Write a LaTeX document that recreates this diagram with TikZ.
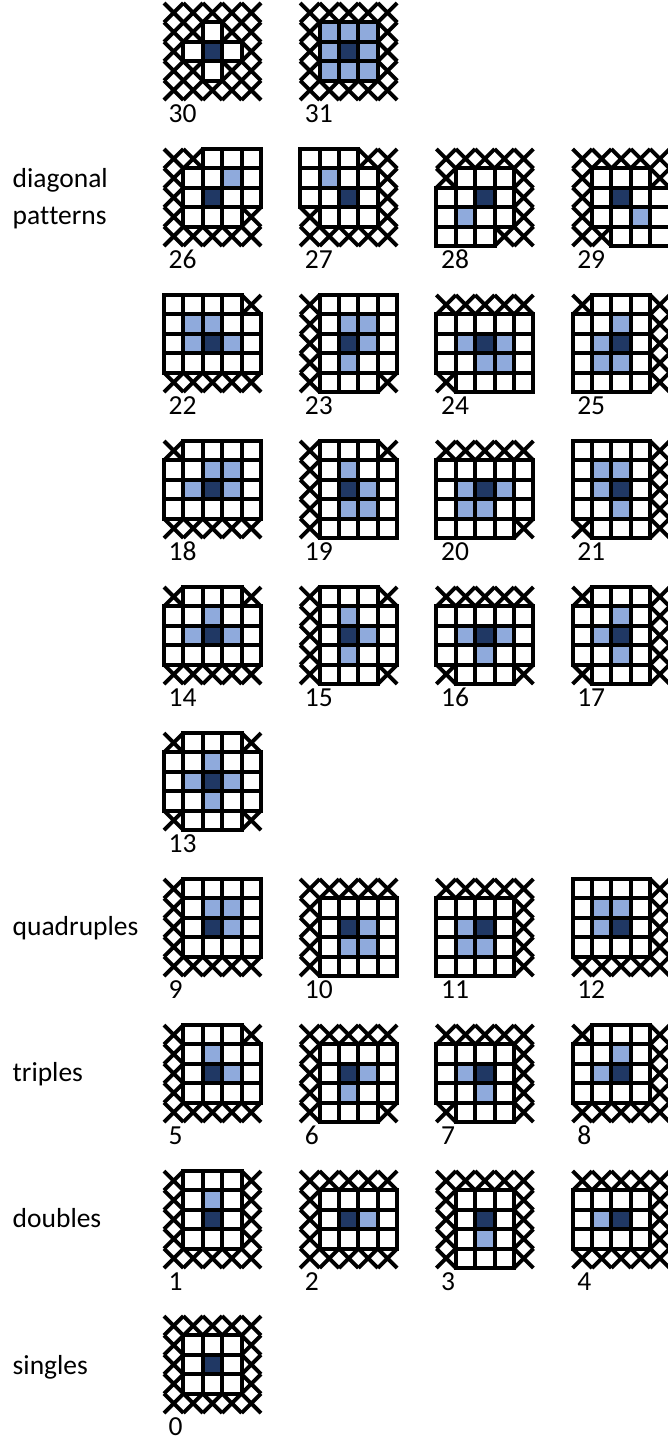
\documentclass[tikz,border=0pt]{standalone}
\usepackage{fontspec}
\setmainfont[Ligatures=NoCommon]{Carlito}
\definecolor{darkcell}{HTML}{203864}
\definecolor{lightcell}{HTML}{8FAADC}
\tikzset{
  xline/.style={line width=3.9pt, draw=black},
  cellbox/.style={line width=3.9pt, draw=black, line join=miter},
  num/.style={anchor=base west, inner sep=0pt, font=\fontsize{27.5}{33}\selectfont},
  side/.style={anchor=base west, inner sep=0pt, font=\fontsize{27.5}{33}\selectfont}
}
\def\cs{19.4}
\newif\ifxpass
\newcommand\drawcell[3]{\csname dc#1\endcsname{#2}{#3}}
\def\dcX#1#2{\ifxpass\draw[xline] (#1,#2) -- ++(\cs,\cs) (#1+\cs,#2) -- ++(-\cs,\cs);\fi}
\def\dcW#1#2{\ifxpass\else\draw[cellbox,fill=white] (#1,#2) rectangle ++(\cs,\cs);\fi}
\def\dcL#1#2{\ifxpass\else\draw[cellbox,fill=lightcell] (#1,#2) rectangle ++(\cs,\cs);\fi}
\def\dcD#1#2{\ifxpass\else\draw[cellbox,fill=darkcell] (#1,#2) rectangle ++(\cs,\cs);\fi}
\def\drawrow#1#2#3{\drawrowA{#1}{#2}#3\relax}
\def\drawrowA#1#2#3#4#5#6#7\relax{%
  \drawcell{#3}{#1}{#2}\drawcell{#4}{#1+\cs}{#2}\drawcell{#5}{#1+2*\cs}{#2}%
  \drawcell{#6}{#1+3*\cs}{#2}\drawcell{#7}{#1+4*\cs}{#2}}
\newcommand\patrows[7]{%
  \drawrow{#1}{#2}{#3}\drawrow{#1}{#2+\cs}{#4}\drawrow{#1}{#2+2*\cs}{#5}%
  \drawrow{#1}{#2+3*\cs}{#6}\drawrow{#1}{#2+4*\cs}{#7}}
\newcommand\pat[8]{%
  \xpasstrue\patrows{#1}{#2}{#4}{#5}{#6}{#7}{#8}%
  \xpassfalse\patrows{#1}{#2}{#4}{#5}{#6}{#7}{#8}%
  \node[num] (n#3) at (#1+4.5,#2+119) {#3};}
\begin{document}
\begin{tikzpicture}[x=1pt,y=-1pt]
\useasboundingbox (0,0) rectangle (667,1438);
\fill[white] (0,0) rectangle (667,1438);
% row 0
\pat{164}{3}{30}{XXXXX}{XXWXX}{XWDWX}{XXWXX}{XXXXX}
\pat{300.2}{3}{31}{XXXXX}{XLLLX}{XLDLX}{XLLLX}{XXXXX}
% row 1
\pat{164}{149}{26}{XXWWW}{XWWLW}{XWDWW}{XWWWX}{XXXXX}
\pat{300.2}{149}{27}{WWWXX}{WLWWX}{WWDWX}{XWWWX}{XXXXX}
\pat{436.4}{149}{28}{XXXXX}{XWWWX}{WWDWX}{WLWWX}{WWWXX}
\pat{572.6}{149}{29}{XXXXX}{XWWWX}{XWDWW}{XWWLW}{XXWWW}
% row 2
\pat{164}{295}{22}{WWWWX}{WLLWW}{WLDLW}{WWWWW}{XXXXX}
\pat{300.2}{295}{23}{XWWWW}{XWLLW}{XWDLW}{XWLWW}{XWWWX}
\pat{436.4}{295}{24}{XXXXX}{WWWWW}{WLDLW}{WWLLW}{XWWWW}
\pat{572.6}{295}{25}{XWWWX}{WWLWX}{WLDWX}{WLLWX}{WWWWX}
% row 3
\pat{164}{441}{18}{XWWWW}{WWLLW}{WLDLW}{WWWWW}{XXXXX}
\pat{300.2}{441}{19}{XWWWX}{XWLWW}{XWDLW}{XWLLW}{XWWWW}
\pat{436.4}{441}{20}{XXXXX}{WWWWW}{WLDLW}{WLLWW}{WWWWX}
\pat{572.6}{441}{21}{WWWWX}{WLLWX}{WLDWX}{WWLWX}{XWWWX}
% row 4
\pat{164}{587}{14}{XWWWX}{WWLWW}{WLDLW}{WWWWW}{XXXXX}
\pat{300.2}{587}{15}{XWWWX}{XWLWW}{XWDLW}{XWLWW}{XWWWX}
\pat{436.4}{587}{16}{XXXXX}{WWWWW}{WLDLW}{WWLWW}{XWWWX}
\pat{572.6}{587}{17}{XWWWX}{WWLWX}{WLDWX}{WWLWX}{XWWWX}
% row 5
\pat{164}{733}{13}{XWWWX}{WWLWW}{WLDLW}{WWLWW}{XWWWX}
% row 6
\pat{164}{879}{9}{XWWWW}{XWLLW}{XWDLW}{XWWWW}{XXXXX}
\pat{300.2}{879}{10}{XXXXX}{XWWWW}{XWDLW}{XWLLW}{XWWWW}
\pat{436.4}{879}{11}{XXXXX}{WWWWX}{WLDWX}{WLLWX}{WWWWX}
\pat{572.6}{879}{12}{WWWWX}{WLLWX}{WLDWX}{WWWWX}{XXXXX}
% row 7
\pat{164}{1025}{5}{XWWWX}{XWLWW}{XWDLW}{XWWWW}{XXXXX}
\pat{300.2}{1025}{6}{XXXXX}{XWWWW}{XWDLW}{XWLWW}{XWWWX}
\pat{436.4}{1025}{7}{XXXXX}{WWWWX}{WLDWX}{WWLWX}{XWWWX}
\pat{572.6}{1025}{8}{XWWWX}{WWLWX}{WLDWX}{WWWWX}{XXXXX}
% row 8
\pat{164}{1171}{1}{XWWWX}{XWLWX}{XWDWX}{XWWWX}{XXXXX}
\pat{300.2}{1171}{2}{XXXXX}{XWWWW}{XWDLW}{XWWWW}{XXXXX}
\pat{436.4}{1171}{3}{XXXXX}{XWWWX}{XWDWX}{XWLWX}{XWWWX}
\pat{572.6}{1171}{4}{XXXXX}{WWWWX}{WLDWX}{WWWWX}{XXXXX}
% row 9
\pat{164}{1316}{0}{XXXXX}{XWWWX}{XWDWX}{XWWWX}{XXXXX}
% side labels
\node[side] (ldiag) at (12.5,187) {diagonal};
\node[side] (lpatt) at (12.5,224) {pat\kern0pt terns};
\node[side] (lquad) at (12.5,935) {quadruples};
\node[side] (ltrip) at (12.5,1081) {triples};
\node[side] (ldoub) at (12.5,1227) {doubles};
\node[side] (lsing) at (12.5,1374) {singles};
\end{tikzpicture}
\end{document}
